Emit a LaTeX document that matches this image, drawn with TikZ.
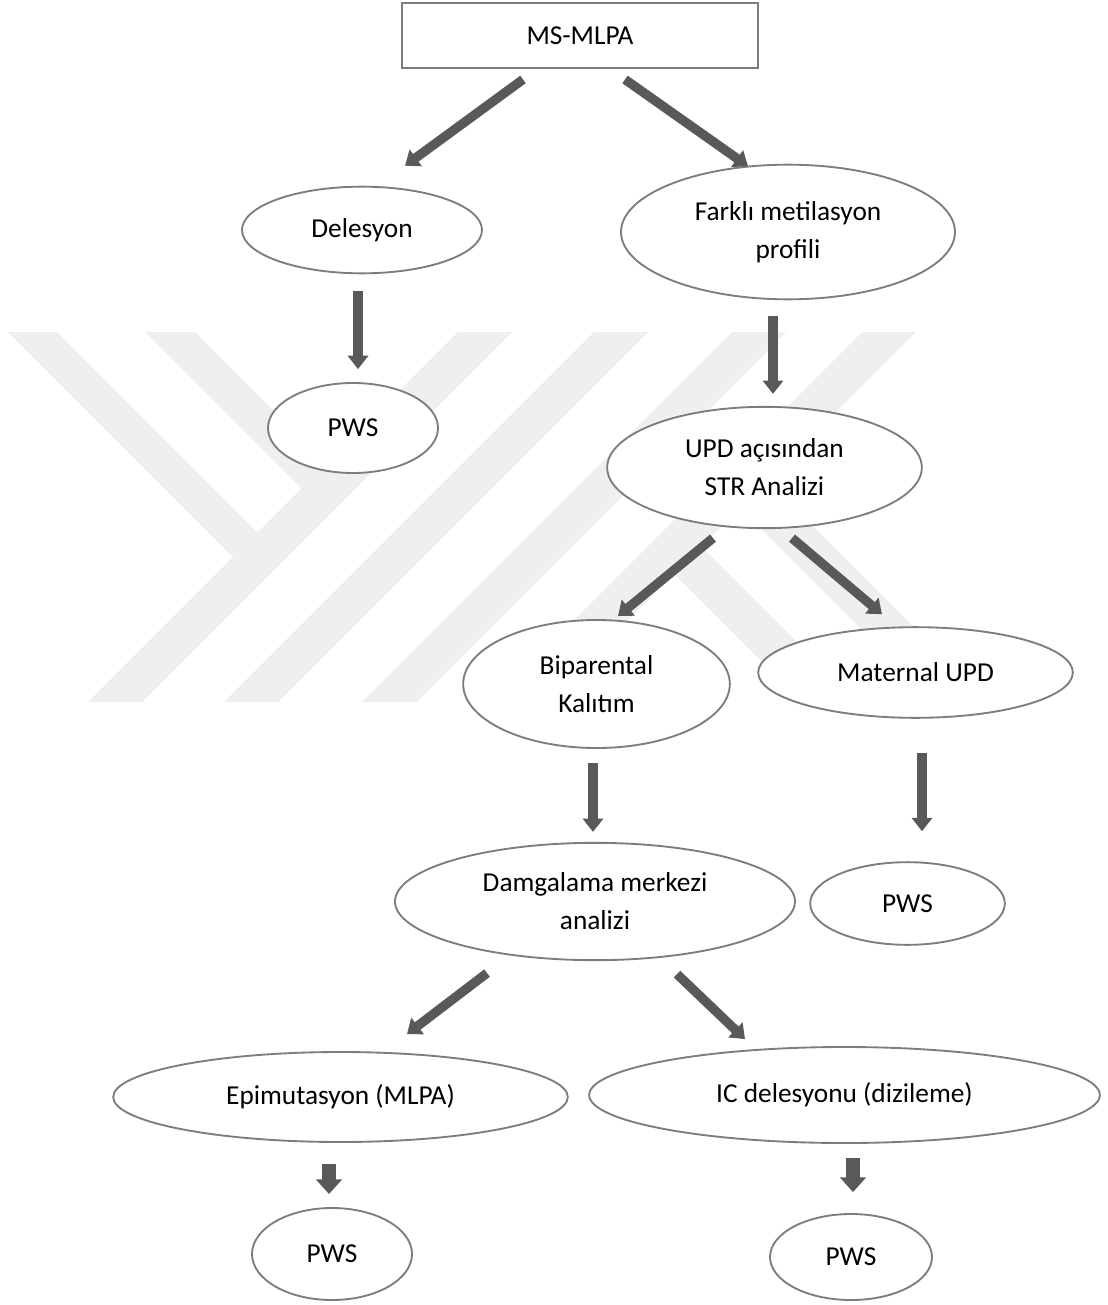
\documentclass[tikz,border=0pt]{standalone}
\usepackage{fontspec}
\setmainfont{Carlito}
\usetikzlibrary{arrows.meta,calc,shapes.geometric}
\definecolor{arrowgray}{RGB}{89,89,89}
\definecolor{edgegray}{RGB}{125,125,125}
\definecolor{markgray}{RGB}{239,239,239}
\tikzset{
  topbox/.style={
    draw=edgegray,
    line width=2.2pt,
    fill=white,
    minimum width=267pt,
    minimum height=48.75pt,
    inner sep=0pt,
    font=\fontsize{20.5}{28.5}\selectfont
  },
  oval/.style={
    ellipse,
    draw=edgegray,
    line width=1.4pt,
    fill=white,
    inner sep=0pt,
    align=center,
    font=\fontsize{20.5}{28.5}\selectfont
  },
  flow/.style={draw=arrowgray, line width=7pt, -{Triangle[length=10pt,width=15pt]}},
  stub/.style={draw=arrowgray, line width=10pt, -{Triangle[length=11pt,width=19pt]}},
  band/.style={fill=markgray, draw=none},
}

\begin{document}
\begin{tikzpicture}[x=0.75pt,y=-0.75pt]
  \useasboundingbox (0,0) rectangle (1107,1305);
  % watermark bands
  \foreach \b in {88,224,362,492} {
    \fill[band] (\b,702) -- ++(54,0) -- ++(370,-370) -- ++(-54,0) -- cycle;
  }
  \fill[band] (8,332) -- (57,332) -- (262,537) -- (237,561) -- cycle;
  \fill[band] (145,332) -- (195,332) -- (333,470) -- (308,495) -- cycle;
  \fill[band] (695,540) -- (857,702) -- (802,702) -- (665,565) -- cycle;
  \fill[band] (765,478) -- (989,702) -- (934,702) -- (732,500) -- cycle;

  \node[topbox] (ms) at (580,35.5) {MS-MLPA};
  \node[oval, minimum width=180pt, minimum height=65pt] (del) at (362,230) {Delesyon};
  \node[oval, minimum width=250.5pt, minimum height=101pt] (farkli) at (788,232) {Farklı metilasyon\\profili};
  \node[oval, minimum width=127.5pt, minimum height=67.5pt] (pwsa) at (353,428) {PWS};
  \node[oval, minimum width=236pt, minimum height=91pt] (upd) at (764.5,467.5) {UPD açısından\\STR Analizi};
  \node[oval, minimum width=200pt, minimum height=96pt] (bip) at (596.5,684) {Biparental\\Kalıtım};
  \node[oval, minimum width=236pt, minimum height=68pt] (mat) at (915.5,672.5) {Maternal UPD};
  \node[oval, minimum width=300pt, minimum height=88pt] (damg) at (595,901.5) {Damgalama merkezi\\analizi};
  \node[oval, minimum width=146pt, minimum height=62pt] (pwsb) at (907.5,903.5) {PWS};
  \node[oval, minimum width=341pt, minimum height=67.5pt] (epi) at (340.5,1097) {Epimutasyon (MLPA)};
  \node[oval, minimum width=383pt, minimum height=72pt] (ic) at (844.5,1095) {IC delesyonu (dizileme)};
  \node[oval, minimum width=120pt, minimum height=69pt] (pwsc) at (332,1254) {PWS};
  \node[oval, minimum width=121.5pt, minimum height=64.5pt] (pwsd) at (851,1257) {PWS};

  \draw[flow] ($(ms.south)+(-57,10)$) -- ($(del.north)+(43,-20)$);
  \draw[flow] ($(ms.south)+(45,10)$) -- ($(farkli.north)+(-40,2.5)$);
  \draw[flow] ($(del.south)+(-4,17)$) -- ($(pwsa.north)+(5,-13)$);
  \draw[flow] ($(farkli.south)+(-15,15.5)$) -- ($(upd.north)+(8.5,-12)$);
  \draw[flow] ($(upd.south)+(-51.5,9)$) -- ($(bip.north)+(21.5,-3)$);
  \draw[flow] ($(upd.south)+(27.5,9)$) -- ($(mat.north)+(-33.5,-12)$);
  \draw[flow] ($(bip.south)+(-3.5,14)$) -- ($(damg.north)+(-2,-10)$);
  \draw[flow] ($(mat.south)+(6.5,34)$) -- ($(pwsb.north)+(14.5,-30)$);
  \draw[flow] ($(damg.south)+(-108,12)$) -- ($(epi.north)+(66.5,-17)$);
  \draw[flow] ($(damg.south)+(82,13)$) -- ($(ic.north)+(-99.5,-7)$);
  \draw[stub] ($(epi.south)+(-11.5,21)$) -- ($(pwsc.north)+(-3,-13)$);
  \draw[stub] ($(ic.south)+(8.5,14)$) -- ($(pwsd.north)+(2,-21)$);
\end{tikzpicture}
\end{document}
